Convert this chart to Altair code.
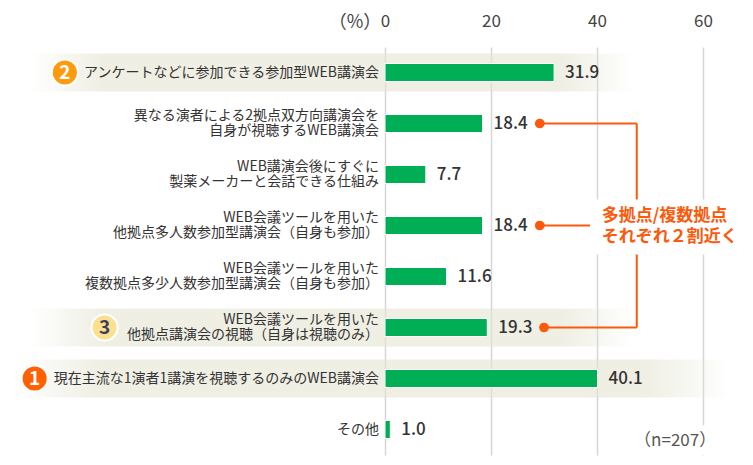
import altair as alt
import pandas as pd

FONT = "Noto Sans CJK JP"
DARK = "#333333"
GREEN = "#00ae55"
ORANGE = "#fb5a0c"

labels = [
    ["アンケートなどに参加できる参加型WEB講演会"],
    ["異なる演者による2拠点双方向講演会を", "自身が視聴するWEB講演会"],
    ["WEB講演会後にすぐに", "製薬メーカーと会話できる仕組み"],
    ["WEB会議ツールを用いた", "他拠点多人数参加型講演会（自身も参加）"],
    ["WEB会議ツールを用いた", "複数拠点多少人数参加型講演会（自身も参加）"],
    ["WEB会議ツールを用いた", "他拠点講演会の視聴（自身は視聴のみ）"],
    ["現在主流な1演者1講演を視聴するのみのWEB講演会"],
    ["その他"],
]
values = [31.9, 18.4, 7.7, 18.4, 11.6, 19.3, 40.1, 1.0]
rows = list(range(len(labels)))
ticks = [0, 20, 40, 60]

band_rows = [0, 5, 6]
band_start = [-67, -67, -70]
band_end = [47, 47, 65]

rank_text = ["2", "3", "1"]
rank_rows = [0.0, 5, 6]
rank_x = [-60.4, -52.9, -66.1]
rank_fill = ["#fd9a0e", "#fbe08f", "#ff6000"]

dot_rows = [1, 3, 5]
dot_x = [29.2, 29.2, 30.0]
join_x = 47.5
stub_x = 38.7

line_gap = 0.145
label_rows = []
for i, parts in enumerate(labels):
    for j, part in enumerate(parts):
        label_rows.append({"row": i + (j - (len(parts) - 1) / 2) * 2 * line_gap, "label": part, "zero": 0})

df = pd.DataFrame({"row": rows, "value": values, "zero": [0] * 8,
                   "text": [f"{v:.1f}" for v in values]})
label_df = pd.DataFrame(label_rows)
bands = pd.DataFrame({"row": band_rows, "a": band_start, "b": band_end})
ranks = pd.DataFrame({"row": rank_rows, "x": rank_x, "t": rank_text})
dots = pd.DataFrame({"row": dot_rows, "x": dot_x})
hlines = pd.DataFrame({"row": dot_rows, "a": dot_x, "b": [join_x, stub_x, join_x]})
vline = pd.DataFrame({"x": [join_x], "r1": [1], "r2": [5]})
mask = pd.DataFrame({"a": [38.9, 47], "b": [68, 68], "r1": [2.49, 6.92], "r2": [3.57, 7.5]})
note = pd.DataFrame({"x": [40.9, 40.9], "row": [2.82, 3.23], "t": ["多拠点/複数拠点", "それぞれ２割近く"]})
nlabel = pd.DataFrame({"x": [47.0], "row": [7.22], "t": ["（n=207）"]})
unit = pd.DataFrame({"x": [-0.7], "row": [-0.98], "t": ["（%）"]})

xs = alt.Scale(domain=[-71.13, 67.92], nice=False, zero=False, padding=0)
ys = alt.Scale(domain=[7.5, -0.5], nice=False, zero=False, padding=0)
xaxis = alt.Axis(orient="top", values=ticks, domain=False, ticks=False, grid=True,
                 gridColor="#d6d6d6", gridWidth=1.5, labelFontSize=17, labelColor="#444444",
                 labelFont=FONT, labelPadding=17, format="d", labelFlush=False)


def X(f):
    return alt.X(f, scale=xs, title=None, axis=xaxis)


def Y(f="row:Q"):
    return alt.Y(f, scale=ys, title=None, axis=None)


grad = alt.LinearGradient(gradient="linear", x1=0, x2=1, y1=0, y2=0, stops=[
    alt.GradientStop(color="rgba(228,228,210,0)", offset=0),
    alt.GradientStop(color="rgba(228,228,210,0.6)", offset=0.12),
    alt.GradientStop(color="rgba(228,228,210,0.6)", offset=0.88),
    alt.GradientStop(color="rgba(228,228,210,0)", offset=1),
])

band_l = alt.Chart(bands).mark_bar(color=grad, size=38, orient="horizontal").encode(
    x=X("a:Q"), x2="b:Q", y=Y())
bar_l = alt.Chart(df).mark_bar(color=GREEN, size=18, orient="horizontal", stroke="#ffffff", strokeWidth=1).encode(
    x=X("zero:Q"), x2="value:Q", y=Y())
val_l = alt.Chart(df).mark_text(align="left", baseline="middle", dx=11, font=FONT, fontSize=17,
                                fontWeight=500, color=DARK).encode(
    x=X("value:Q"), y=Y(), text="text:N")
lab_l = alt.Chart(label_df).mark_text(align="right", baseline="middle", dx=-6, font=FONT, fontSize=14,
                                      color=DARK).encode(
    x=X("zero:Q"), y=Y(), text="label:N")
h_l = alt.Chart(hlines).mark_rule(color=ORANGE, strokeWidth=2).encode(
    x=X("a:Q"), x2="b:Q", y=Y())
v_l = alt.Chart(vline).mark_rule(color=ORANGE, strokeWidth=2).encode(
    x=X("x:Q"), y=Y("r1:Q"), y2="r2:Q")
mask_l = alt.Chart(mask).mark_rect(color="#ffffff").encode(
    x=X("a:Q"), x2="b:Q", y=Y("r1:Q"), y2="r2:Q")
note_l = alt.Chart(note).mark_text(align="left", baseline="middle", font=FONT, fontSize=17, fontWeight="bold",
                                   color=ORANGE).encode(
    x=X("x:Q"), y=Y(), text="t:N")
n_l = alt.Chart(nlabel).mark_text(align="left", baseline="middle", font=FONT, fontSize=17, color="#555555").encode(
    x=X("x:Q"), y=Y(), text="t:N")
unit_l = alt.Chart(unit).mark_text(align="right", baseline="middle", font=FONT, fontSize=18, color="#444444").encode(
    x=X("x:Q"), y=Y(), text="t:N")
dot_l = alt.Chart(dots).mark_circle(color=ORANGE, opacity=1, size=95).encode(
    x=X("x:Q"), y=Y())
rank_l = alt.Chart(ranks).mark_circle(opacity=1, size=680, stroke="#ffffff", strokeWidth=2).encode(
    x=X("x:Q"), y=Y(),
    color=alt.Color("t:N", scale=alt.Scale(domain=rank_text, range=rank_fill), legend=None))
rank_t = alt.Chart(ranks).transform_filter("datum.t != '3'").mark_text(
    align="center", baseline="middle", font=FONT, fontSize=19, fontWeight="bold", color="#ffffff").encode(
    x=X("x:Q"), y=Y(), text="t:N")
rank_t3 = alt.Chart(ranks).transform_filter("datum.t == '3'").mark_text(
    align="center", baseline="middle", font=FONT, fontSize=19, fontWeight="bold", color="#3d3f5e").encode(
    x=X("x:Q"), y=Y(), text="t:N")

chart = alt.layer(band_l, bar_l, val_l, lab_l, h_l, v_l, mask_l, note_l, n_l, unit_l, dot_l,
                  rank_l, rank_t, rank_t3).properties(
    width=737, height=408,
    padding={"left": 0, "top": 39, "right": 0, "bottom": 2},
    autosize=alt.AutoSizeParams(type="none"),
    background="#ffffff",
).configure_view(stroke=None)

chart.save("out.html", embed_options={"renderer": "svg", "actions": False})
